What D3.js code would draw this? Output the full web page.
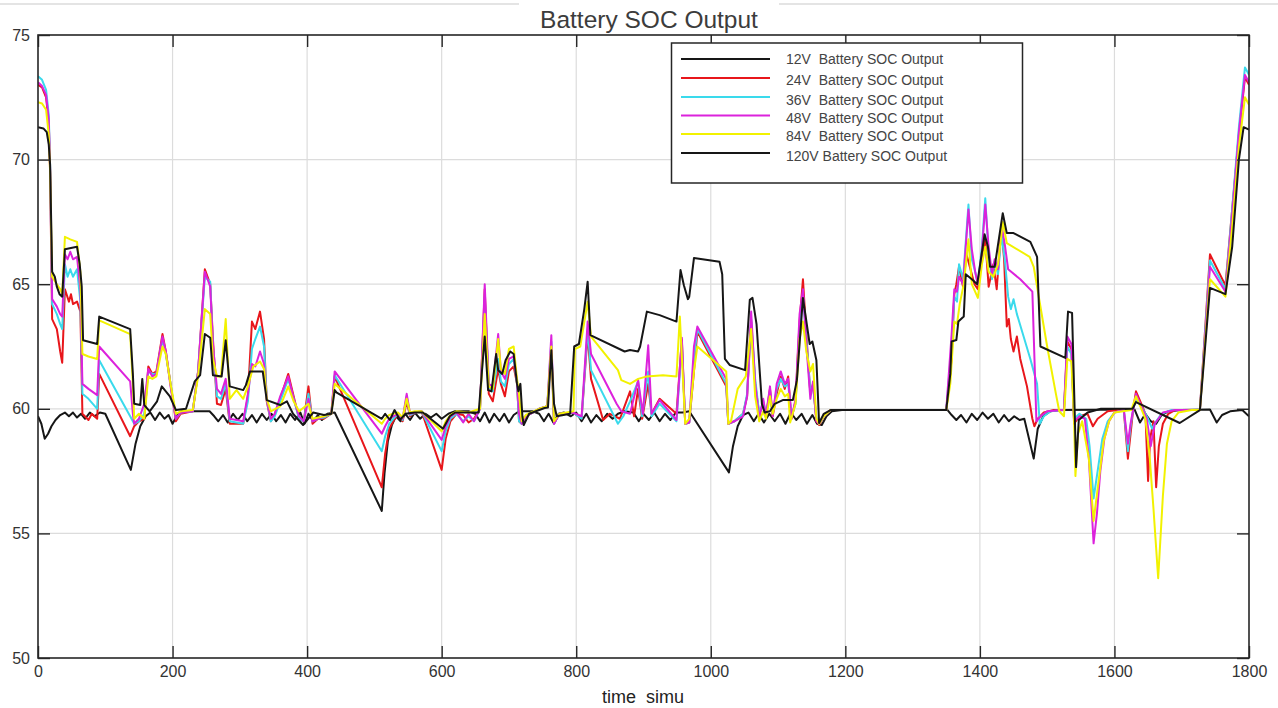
<!DOCTYPE html>
<html>
<head>
<meta charset="utf-8">
<script src="https://cdn.jsdelivr.net/npm/d3@7"></script>
<style>
  html, body { margin: 0; padding: 0; background: #fff; }
  svg { display: block; font-family: "Liberation Sans", Arial, Helvetica, sans-serif; }
</style>
</head>
<body>
<svg id="chart" width="1278" height="708"></svg>
<script>
// Axis ticks
const xTicks = [0, 200, 400, 600, 800, 1000, 1200, 1400, 1600, 1800];
const yTicks = [50, 55, 60, 65, 70, 75];

// Legend labels, in drawing order
const seriesLabels = [
  "12V  Battery SOC Output",
  "24V  Battery SOC Output",
  "36V  Battery SOC Output",
  "48V  Battery SOC Output",
  "84V  Battery SOC Output",
  "120V Battery SOC Output"
];

// State of charge (%) against simulation time: [time, soc]
const soc12 = [
  [0,59.7],[5,59.4],[10,58.8],[15,59.0],[20,59.3],[26,59.55],[33,59.75],[40,59.85],[46,59.7],[52,59.85],[58,59.65],[64,59.8],[70,59.6],[77,59.85],[84,59.7],[92,59.85],[100,59.8],
  [138,57.55],[145,58.6],[152,59.3],[160,59.7],[167,59.85],[174,59.55],[181,59.85],[188,59.6],[194,59.75],[200,59.4],[207,59.75],[214,59.9],[255,59.9],[262,59.7],[268,59.5],[275,59.75],[282,59.45],[290,59.8],[297,59.55],[304,59.8],[311,59.5],[318,59.75],[325,59.45],[333,59.8],[340,59.55],[347,59.8],[354,59.5],[361,59.75],[368,59.45],[375,59.8],[382,59.55],[390,59.85],[396,59.4],[402,59.8],[409,59.5],[416,59.75],[422,59.55],[430,59.8],[441,59.85],
  [511,55.9],[515,57.4],[520,58.7],[526,59.35],[532,59.7],[539,59.5],[546,59.8],[553,59.55],[560,59.85],[568,59.6],[576,59.8],[584,59.65],[592,59.8],[600,59.6],[610,59.8],[620,59.9],[640,59.9],[650,59.8],[657,59.5],[664,59.85],[671,59.45],[678,59.8],[686,59.5],[693,59.8],[700,59.45],[707,59.75],[715,59.9],[735,59.9],[745,59.8],[752,59.5],[759,59.8],[766,59.45],[774,59.8],[782,59.85],[792,59.7],[800,59.85],[808,59.5],[815,59.8],[822,59.45],[830,59.75],[838,59.5],[846,59.8],[854,59.6],[862,59.8],[872,59.9],[885,59.85],[893,59.5],[900,59.8],[908,59.55],[916,59.85],[924,59.5],[932,59.8],[940,59.55],[948,59.85],[958,59.85],[968,59.9],
  [1027,57.45],[1033,58.5],[1040,59.3],[1048,59.75],[1056,59.85],[1064,59.5],[1071,59.8],[1079,59.45],[1087,59.8],[1095,59.5],[1103,59.8],[1111,59.4],[1119,59.85],[1127,59.55],[1135,59.8],[1143,59.4],[1151,59.75],[1158,59.4],[1165,59.35],[1172,59.7],[1180,59.9],[1195,59.95],
  [1352,59.95],[1358,59.75],[1365,59.55],[1372,59.75],[1380,59.45],[1388,59.8],[1396,59.55],[1404,59.85],[1412,59.6],[1420,59.8],[1428,59.45],[1436,59.75],[1443,59.5],[1451,59.7],[1459,59.55],[1466,59.6],
  [1480,58.0],[1486,59.2],[1494,59.7],[1505,59.9],[1520,59.95],[1630,59.97],[1638,59.45],[1646,59.8],[1654,59.5],[1662,59.4],[1670,59.75],[1680,59.9],[1700,59.95],[1742,59.97],[1752,59.45],[1760,59.75],[1772,59.9],[1790,59.95],[1800,59.7]
];

const soc24 = [
  [0,73.0],[6,72.9],[12,72.5],[16,71.5],[18,69.5],[21,63.6],[28,63.2],[33,62.3],[36,61.85],[40,64.8],[46,64.3],[49,64.6],[52,64.2],[58,64.3],[63,63.9],[66,59.8],[75,59.55],[80,59.8],[88,59.6],[91,61.4],[137,58.9],[143,59.3],[150,59.5],[158,59.6],[164,61.7],[170,61.4],[176,61.5],[185,63.0],[190,62.3],[197,61.0],[205,59.5],[212,59.8],[230,59.9],[238,61.5],[248,65.6],[256,65.0],[260,62.8],[266,60.2],[272,60.15],[279,60.8],[285,59.4],[305,59.4],[312,60.5],[318,63.5],[323,63.2],[330,63.9],[336,62.8],[340,60.3],[346,59.5],[352,59.8],[360,60.4],[372,61.4],[380,60.5],[388,59.6],[395,59.5],[402,60.9],[408,59.4],[416,59.6],[425,59.6],[436,59.8],[441,61.3],
  [511,56.85],[516,58.2],[522,59.2],[528,59.5],[535,59.8],[542,59.5],[548,60.3],[553,59.7],[560,59.85],[570,59.9],[600,57.55],[606,58.8],[613,59.5],[622,59.8],[632,59.75],[640,59.45],[648,59.6],[657,60.0],[664,64.8],[670,60.6],[676,60.3],[684,61.6],[688,61.0],[694,60.5],[700,61.5],[707,61.7],[712,61.0],[715,59.5],[719,59.4],[725,59.7],[745,60.0],[757,60.1],[763,62.4],[767,59.4],[775,59.8],[795,59.85],[808,59.6],[817,63.0],[822,61.2],[840,59.55],[850,59.8],[865,59.6],[880,60.7],[886,59.7],[892,60.8],[898,59.6],[907,61.0],[912,59.8],[924,60.4],[949,59.8],[957,62.76],[962,59.4],[968,59.45],[975,61.5],[980,63.1],[1023,60.9],[1026,59.4],[1035,59.5],[1048,59.8],[1054,60.5],[1060,63.5],[1066,61.0],[1072,59.8],[1078,60.2],[1082,59.7],[1088,60.8],[1092,59.7],[1098,60.6],[1104,61.3],[1110,60.8],[1115,61.3],[1120,59.6],[1126,60.3],[1132,63.5],[1137,65.2],[1142,63.0],[1148,60.6],[1152,61.0],[1157,59.5],[1161,59.35],[1168,59.7],[1178,59.95],
  [1350,59.95],[1358,62.0],[1362,64.6],[1365,65.0],[1369,65.7],[1375,64.9],[1380,66.2],[1386,65.6],[1392,65.0],[1397,64.8],[1402,66.0],[1408,66.8],[1413,64.9],[1420,65.8],[1425,64.8],[1432,67.3],[1436,66.0],[1440,63.3],[1443,63.6],[1446,62.8],[1450,62.3],[1455,62.9],[1460,62.0],[1470,60.9],[1478,59.6],[1481,59.3],[1486,59.6],[1495,59.85],[1510,59.95],[1525,59.95],[1530,62.7],[1536,62.4],[1540,59.4],[1548,59.7],[1560,59.8],[1568,59.3],[1575,59.6],[1590,59.9],[1605,59.95],[1614,59.9],[1620,58.0],[1624,59.0],[1628,60.0],[1632,60.7],[1640,60.2],[1646,59.8],[1650,57.1],[1653,58.8],[1658,59.5],[1662,56.85],[1666,58.5],[1672,59.4],[1680,59.8],[1690,59.95],[1727,59.95],[1742,66.2],[1765,64.95],[1775,68.0],[1785,71.0],[1794,73.3],[1800,73.0]
];

const soc36 = [
  [0,73.35],[6,73.2],[12,72.8],[16,71.8],[18,69.7],[21,64.2],[28,63.8],[33,63.4],[36,63.2],[40,65.8],[44,65.3],[48,65.6],[52,65.3],[58,65.6],[63,64.3],[66,60.6],[75,60.4],[88,60.0],[91,61.95],[137,59.7],[143,59.4],[150,59.5],[158,59.8],[164,61.5],[170,61.4],[176,61.4],[185,62.8],[190,62.2],[197,61.0],[205,59.6],[212,59.85],[230,59.9],[238,61.5],[248,65.3],[256,65.1],[260,62.5],[266,60.5],[272,60.4],[279,61.0],[285,59.5],[305,59.4],[312,60.3],[318,62.4],[323,62.8],[330,63.3],[336,62.5],[340,60.4],[346,59.5],[352,59.7],[360,60.3],[372,61.2],[380,60.4],[388,59.6],[395,59.5],[402,60.6],[408,59.5],[416,59.6],[425,59.65],[436,59.8],[441,61.35],
  [511,58.3],[516,58.9],[522,59.4],[528,59.6],[535,59.8],[542,59.55],[548,60.5],[553,59.75],[560,59.85],[570,59.9],[600,58.3],[606,59.1],[613,59.6],[622,59.8],[632,59.5],[640,59.7],[648,59.5],[657,60.0],[664,64.5],[670,60.9],[676,60.7],[684,62.0],[688,61.1],[694,60.9],[700,61.8],[707,62.0],[712,61.0],[715,59.5],[719,59.4],[725,59.7],[745,60.0],[757,60.1],[763,62.7],[767,59.4],[775,59.8],[795,59.85],[808,59.6],[817,63.2],[822,61.55],[862,59.4],[870,59.7],[880,60.3],[892,61.1],[898,59.7],[907,61.5],[912,59.7],[924,60.2],[949,59.5],[957,62.6],[962,59.4],[968,59.45],[975,62.0],[980,63.2],[1023,61.0],[1026,59.4],[1035,59.5],[1048,59.8],[1054,60.6],[1060,63.6],[1066,61.2],[1072,59.8],[1078,60.3],[1082,59.8],[1088,60.6],[1092,59.8],[1098,60.8],[1104,61.2],[1110,60.9],[1115,61.0],[1120,59.7],[1126,60.2],[1132,63.3],[1137,64.6],[1142,62.8],[1148,60.7],[1152,60.9],[1157,59.6],[1161,59.4],[1168,59.7],[1178,59.95],
  [1350,59.95],[1358,62.5],[1362,64.5],[1366,64.3],[1369,65.8],[1375,65.2],[1383,68.2],[1388,66.0],[1393,65.5],[1397,65.0],[1403,66.5],[1408,68.45],[1413,66.2],[1418,65.2],[1422,65.9],[1427,65.4],[1432,67.0],[1437,66.0],[1442,64.5],[1446,64.0],[1450,64.4],[1455,63.8],[1465,62.9],[1475,62.0],[1485,61.0],[1489,59.4],[1495,59.7],[1505,59.9],[1525,59.95],[1530,62.5],[1536,62.2],[1540,59.6],[1548,59.8],[1558,59.6],[1563,58.5],[1569,56.4],[1575,57.5],[1582,58.8],[1590,59.5],[1600,59.85],[1614,59.95],[1620,58.3],[1624,59.3],[1628,60.0],[1632,60.4],[1640,60.1],[1650,59.6],[1656,59.2],[1662,59.5],[1670,59.8],[1685,59.95],[1727,59.95],[1742,65.95],[1765,64.8],[1775,68.0],[1785,71.3],[1794,73.7],[1800,73.4]
];

const soc48 = [
  [0,73.1],[6,72.95],[12,72.6],[16,71.6],[18,69.6],[21,64.4],[28,64.1],[33,63.8],[36,63.7],[40,66.2],[44,66.0],[48,66.3],[52,66.0],[58,66.1],[63,64.8],[66,61.0],[75,60.8],[88,60.55],[91,62.5],[137,61.1],[141,59.8],[143,59.4],[150,59.6],[158,60.2],[164,61.6],[170,61.3],[176,61.4],[185,62.9],[190,62.3],[197,60.9],[205,59.6],[212,59.85],[230,59.9],[238,61.5],[248,65.5],[256,64.9],[260,62.6],[266,60.8],[272,60.6],[279,61.2],[285,59.6],[305,59.5],[312,60.6],[318,61.8],[323,61.7],[330,62.3],[336,61.8],[340,60.4],[346,59.6],[352,59.8],[360,60.5],[372,61.3],[380,60.4],[388,59.7],[395,59.5],[402,60.4],[408,59.5],[416,59.6],[425,59.7],[436,59.8],[441,61.5],
  [511,59.0],[516,59.3],[522,59.6],[528,59.7],[535,59.8],[542,59.6],[548,60.6],[553,59.8],[560,59.85],[570,59.9],[600,58.75],[606,59.3],[613,59.7],[622,59.85],[632,59.45],[640,59.8],[648,59.5],[657,60.0],[664,65.0],[670,61.0],[676,60.9],[684,63.0],[688,61.5],[694,61.2],[700,62.0],[707,62.1],[712,61.1],[715,59.8],[719,59.4],[725,59.7],[745,60.0],[757,60.1],[763,62.95],[767,59.4],[775,59.8],[795,59.85],[808,59.7],[817,63.5],[822,62.2],[860,60.2],[867,59.9],[880,59.8],[892,61.15],[899,59.8],[907,62.55],[912,59.8],[924,60.35],[949,59.55],[957,62.85],[962,59.4],[968,59.45],[975,62.5],[980,63.3],[1023,61.2],[1026,59.4],[1035,59.5],[1048,59.7],[1054,60.5],[1060,63.9],[1066,61.0],[1072,59.6],[1078,60.4],[1082,59.7],[1088,60.9],[1092,59.7],[1098,61.0],[1104,61.5],[1110,61.0],[1115,61.2],[1120,59.6],[1126,60.4],[1132,63.8],[1137,64.8],[1142,62.6],[1148,60.4],[1152,61.1],[1157,59.5],[1161,59.4],[1168,59.7],[1178,59.95],
  [1350,59.95],[1358,63.0],[1362,64.8],[1366,64.7],[1369,65.3],[1375,65.0],[1383,68.0],[1388,66.4],[1393,65.5],[1397,65.0],[1403,66.3],[1408,68.2],[1413,66.5],[1418,65.4],[1422,66.0],[1427,65.6],[1432,67.4],[1437,66.6],[1442,65.6],[1460,65.2],[1478,64.7],[1484,59.5],[1490,59.7],[1500,59.9],[1525,59.95],[1530,62.9],[1536,62.6],[1540,59.5],[1548,59.7],[1556,59.6],[1562,58.0],[1569,54.6],[1574,55.8],[1579,57.5],[1585,58.8],[1592,59.5],[1600,59.85],[1614,59.95],[1620,58.6],[1624,59.4],[1628,60.0],[1632,60.6],[1640,60.1],[1648,59.6],[1654,58.5],[1660,59.4],[1672,59.85],[1690,59.95],[1727,59.95],[1742,65.7],[1765,64.7],[1775,67.8],[1785,71.1],[1794,73.4],[1800,73.1]
];

const soc84 = [
  [0,72.3],[6,72.25],[12,72.0],[16,71.0],[18,69.5],[21,65.3],[28,65.0],[33,64.8],[36,64.6],[40,66.9],[48,66.8],[58,66.7],[63,65.5],[66,62.2],[75,62.1],[88,62.0],[91,63.55],[137,63.0],[141,61.0],[143,59.6],[150,59.8],[158,59.6],[164,61.3],[170,61.2],[176,61.3],[185,62.5],[190,62.2],[197,61.0],[205,59.8],[212,59.9],[230,59.95],[238,61.3],[248,64.0],[256,63.8],[260,62.0],[266,61.3],[272,61.3],[279,63.6],[285,60.4],[295,60.75],[305,60.4],[312,60.9],[320,61.7],[330,61.9],[336,61.6],[340,60.4],[346,59.9],[360,60.1],[372,60.9],[380,60.3],[388,59.9],[402,60.2],[408,59.6],[425,59.7],[436,59.8],[441,61.0],
  [511,59.4],[516,59.6],[522,59.75],[528,59.8],[535,59.85],[542,59.65],[548,60.4],[553,59.85],[560,59.9],[570,59.9],[600,59.1],[606,59.5],[613,59.75],[622,59.9],[640,59.85],[657,60.0],[664,63.8],[670,60.9],[676,60.8],[684,62.8],[688,61.6],[694,61.4],[700,62.4],[707,62.5],[712,61.2],[715,60.6],[719,59.5],[725,59.75],[745,60.0],[757,60.1],[763,62.5],[767,59.5],[775,59.8],[796,59.9],[798,62.4],[806,62.5],[817,64.3],[822,62.9],[862,61.55],[867,61.15],[880,61.0],[892,61.2],[905,61.3],[929,61.35],[949,61.3],[954,63.7],[962,59.4],[968,59.6],[975,61.5],[980,62.5],[1023,61.5],[1026,59.4],[1030,59.5],[1040,60.8],[1052,61.3],[1060,63.2],[1066,60.5],[1072,59.5],[1078,59.9],[1082,59.6],[1088,60.5],[1092,59.8],[1098,60.4],[1104,60.8],[1110,60.5],[1115,60.6],[1118,59.45],[1126,60.2],[1132,62.8],[1137,63.5],[1142,62.3],[1148,61.5],[1152,61.8],[1157,59.6],[1161,59.4],[1168,59.7],[1178,59.95],
  [1350,59.95],[1356,61.0],[1362,63.5],[1366,63.4],[1370,64.2],[1376,65.0],[1383,66.8],[1388,65.0],[1397,64.45],[1403,65.8],[1408,66.5],[1413,65.5],[1420,65.3],[1427,65.8],[1434,67.5],[1440,66.65],[1474,66.1],[1480,65.7],[1500,62.5],[1513,60.6],[1518,59.9],[1525,59.7],[1530,62.0],[1536,61.9],[1540,59.5],[1542,57.3],[1546,59.0],[1552,59.5],[1562,58.0],[1569,55.5],[1576,57.0],[1584,58.7],[1592,59.5],[1600,59.85],[1625,59.95],[1632,60.5],[1640,60.0],[1646,59.6],[1652,58.2],[1658,56.0],[1665,53.2],[1672,56.5],[1678,58.6],[1685,59.5],[1695,59.85],[1715,59.95],[1727,59.95],[1742,65.2],[1765,64.5],[1775,67.3],[1785,70.5],[1794,72.5],[1800,72.2]
];

const soc120 = [
  [0,71.3],[8,71.25],[13,71.1],[16,70.6],[18,69.8],[21,65.5],[25,65.3],[28,64.9],[32,64.6],[36,64.5],[40,66.4],[58,66.5],[62,65.8],[65,64.9],[67,62.75],[88,62.6],[91,63.7],[137,63.2],[141,61.4],[143,60.2],[152,60.15],[155,61.2],[158,60.15],[166,59.9],[177,60.3],[184,60.9],[196,60.5],[205,59.95],[220,60.0],[233,61.1],[241,61.35],[248,63.0],[256,62.85],[260,61.35],[273,61.3],[279,62.75],[285,60.9],[305,60.75],[309,60.95],[315,61.5],[334,61.5],[340,60.35],[360,60.15],[370,60.3],[379,59.8],[394,59.35],[409,59.85],[425,59.75],[436,59.8],[441,60.75],[444,60.65],
  [511,59.6],[516,59.8],[523,59.55],[530,59.95],[538,59.55],[546,59.8],[560,59.85],[572,59.85],[602,59.2],[612,59.7],[620,59.85],[655,59.85],[664,62.9],[669,60.75],[674,60.7],[681,62.2],[684,61.55],[690,61.4],[695,61.95],[702,62.3],[707,62.2],[712,61.0],[714,60.7],[717,61.0],[720,59.7],[722,59.35],[730,59.8],[753,60.03],[758,60.05],[763,62.35],[767,60.2],[771,59.7],[791,59.8],[797,62.5],[804,62.6],[812,64.0],[817,65.1],[821,62.96],[872,62.3],[880,62.36],[892,62.3],[895,62.5],[905,63.9],[924,63.76],[949,63.5],[955,65.57],[960,64.96],[966,64.4],[968,64.5],[975,66.05],[1013,65.9],[1017,65.4],[1021,62.0],[1028,61.76],[1051,61.55],[1058,64.37],[1062,64.45],[1068,63.4],[1073,61.4],[1076,60.2],[1080,59.85],[1088,59.9],[1095,60.2],[1107,60.35],[1122,60.35],[1128,61.15],[1137,64.45],[1147,62.6],[1151,62.7],[1157,61.95],[1161,59.43],[1168,59.8],[1178,59.95],
  [1350,59.95],[1356,61.4],[1358,62.7],[1365,62.76],[1368,63.5],[1376,63.7],[1379,65.4],[1388,65.2],[1396,65.0],[1407,67.0],[1412,66.5],[1415,65.7],[1422,65.7],[1434,67.85],[1440,67.05],[1450,67.05],[1475,66.7],[1485,66.1],[1490,62.5],[1527,62.04],[1531,63.9],[1537,63.85],[1541,59.8],[1543,57.66],[1547,59.55],[1560,59.85],[1580,60.0],[1627,60.0],[1632,60.27],[1697,59.43],[1727,59.95],[1742,64.85],[1765,64.6],[1775,66.5],[1785,70.0],[1792,71.3],[1800,71.2]
];

const seriesData = [soc12, soc24, soc36, soc48, soc84, soc120];
const seriesColors = ["#161616", "#e8161b", "#3adaec", "#dc22dc", "#f2f200", "#161616"];

const svg = d3.select("#chart");
const W = 1278;

const x = d3.scaleLinear().domain([0, 1800]).range([38, 1249]);
const y = d3.scaleLinear().domain([50, 75]).range([658, 35]);

// top strip with the title
svg.append("line").attr("x1", 0).attr("x2", W).attr("y1", 4).attr("y2", 4)
  .attr("stroke", "#e4e4e4").attr("stroke-width", 2);
svg.append("rect").attr("x", 519).attr("y", 0).attr("width", 260).attr("height", 30).attr("fill", "#fff");
svg.append("text").attr("x", 649).attr("y", 28).attr("text-anchor", "middle")
  .attr("font-size", 24.5).attr("fill", "#3c3c3c").text("Battery SOC Output");

// grid
const grid = svg.append("g").attr("stroke", "#dcdcdc").attr("stroke-width", 1.2);
grid.selectAll(".gx").data(xTicks.slice(1, -1)).join("line")
  .attr("x1", d => x(d)).attr("x2", d => x(d)).attr("y1", y(75)).attr("y2", y(50));
grid.selectAll(".gy").data(yTicks.slice(1, -1)).join("line")
  .attr("y1", d => y(d)).attr("y2", d => y(d)).attr("x1", x(0)).attr("x2", x(1800));

// data lines
svg.append("clipPath").attr("id", "plotClip").append("rect")
  .attr("x", x(0)).attr("y", y(75)).attr("width", x(1800) - x(0)).attr("height", y(50) - y(75));
const line = d3.line().x(d => x(d[0])).y(d => y(d[1]));
svg.append("g").attr("clip-path", "url(#plotClip)")
  .selectAll("path").data(seriesData).join("path")
  .attr("d", line).attr("fill", "none")
  .attr("stroke", (d, i) => seriesColors[i])
  .attr("stroke-width", 2).attr("stroke-linejoin", "round");

// axes with inward ticks
const fmt = d3.format("d");
function styleAxis(g) {
  g.select(".domain").remove();
  g.selectAll(".tick line").attr("stroke", "#262626").attr("stroke-width", 1.4);
  g.selectAll(".tick text").attr("fill", "#333").attr("font-size", 16)
    .attr("font-family", "'Liberation Sans', Arial, sans-serif");
}
svg.append("g").attr("transform", `translate(0,${y(50)})`)
  .call(d3.axisBottom(x).tickValues(xTicks).tickFormat(fmt).tickSizeInner(-12).tickSizeOuter(0).tickPadding(8))
  .call(styleAxis);
svg.append("g").attr("transform", `translate(0,${y(75)})`)
  .call(d3.axisTop(x).tickValues(xTicks).tickSizeInner(-12).tickSizeOuter(0).tickFormat(""))
  .call(styleAxis);
svg.append("g").attr("transform", `translate(${x(0)},0)`)
  .call(d3.axisLeft(y).tickValues(yTicks).tickFormat(fmt).tickSizeInner(-12).tickSizeOuter(0).tickPadding(8))
  .call(styleAxis);
svg.append("g").attr("transform", `translate(${x(1800)},0)`)
  .call(d3.axisRight(y).tickValues(yTicks).tickSizeInner(-12).tickSizeOuter(0).tickFormat(""))
  .call(styleAxis);

// axes box
svg.append("rect").attr("x", x(0)).attr("y", y(75))
  .attr("width", x(1800) - x(0)).attr("height", y(50) - y(75))
  .attr("fill", "none").attr("stroke", "#262626").attr("stroke-width", 1.6);

svg.append("text").attr("x", 643).attr("y", 703).attr("text-anchor", "middle")
  .attr("font-size", 18).attr("fill", "#222").style("white-space", "pre").text("time  simu");

// legend
const legend = svg.append("g");
legend.append("rect").attr("x", 671.5).attr("y", 43).attr("width", 351).attr("height", 140)
  .attr("fill", "#fff").attr("stroke", "#262626").attr("stroke-width", 1.5);
const rowY = [59, 78, 97, 115.5, 134, 153];
const textY = [63.5, 84.5, 104.5, 123, 141, 160.5];
const rows = legend.selectAll("g.row").data(seriesLabels).join("g").attr("class", "row");
rows.append("line").attr("x1", 681).attr("x2", 770)
  .attr("y1", (d, i) => rowY[i]).attr("y2", (d, i) => rowY[i])
  .attr("stroke", (d, i) => seriesColors[i]).attr("stroke-width", 2.2);
rows.append("text").attr("x", 786).attr("y", (d, i) => textY[i])
  .attr("font-size", 14).attr("fill", "#444").style("white-space", "pre")
  .text(d => d);
</script>
</body>
</html>
